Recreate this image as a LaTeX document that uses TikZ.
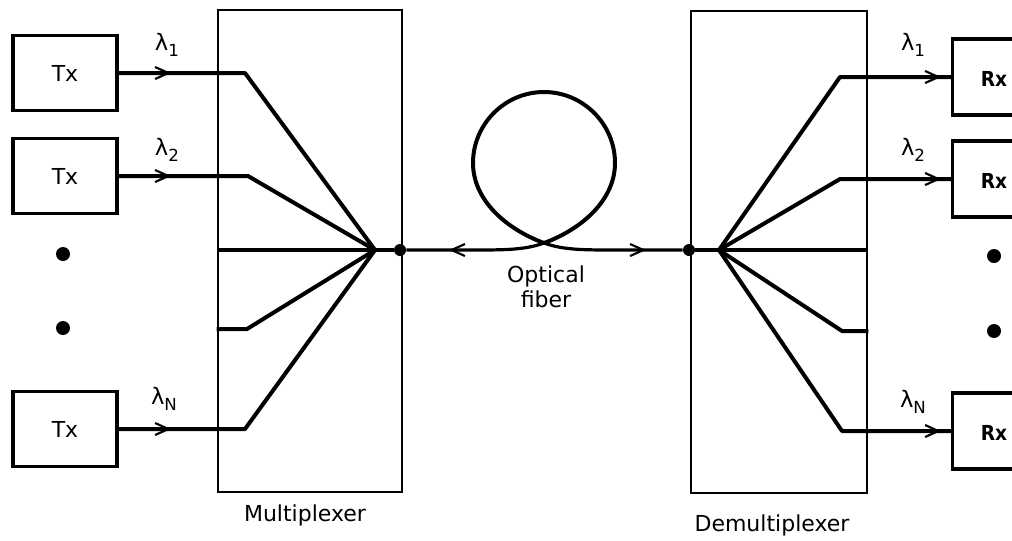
\documentclass[tikz,border=0pt]{standalone}
\usepackage{fontspec}
\setmainfont{DejaVu Sans}
\newfontfamily\rxfont{DejaVu Sans Condensed}
\usetikzlibrary{arrows.meta}
\begin{document}
\begin{tikzpicture}[x=0.75pt,y=-0.75pt,
  lbl/.style={font=\fontsize{16.5}{20}\selectfont, inner sep=0pt},
  lam/.style={font=\fontsize{17}{20}\selectfont, inner sep=0pt},
  txbox/.style={draw, line width=2.4pt, minimum width=78pt, minimum height=56pt, inner sep=0pt, font=\fontsize{16.5}{20}\selectfont},
  rxbox/.style={draw, line width=2.6pt, minimum width=80pt, minimum height=57pt, inner sep=0pt},
  rxtext/.style={font=\rxfont\bfseries\fontsize{15.5}{18}\selectfont, inner sep=0pt},
  unitbox/.style={draw, line width=2pt, inner sep=0pt},
  wire/.style={line width=3pt, line join=round},
  thinwire/.style={line width=2.4pt},
  barb/.style={-{Straight Barb[length=10pt,width=9pt,line width=1.6pt]}, line width=2.2pt},
  dotmark/.style={circle, fill, inner sep=0pt, minimum size=10.5pt},
  smalldot/.style={circle, fill, inner sep=0pt, minimum size=9pt}
]
\clip (0,0) rectangle (1012,540);
\fill[white] (0,0) rectangle (1012,540);

% transmitters
\node[txbox] (tx1) at (65,73) {Tx};
\node[txbox] (tx2) at (65,176) {Tx};
\node[txbox] (txn) at (65,429) {Tx};
\node[dotmark] (ld1) at (63,254) {};
\node[dotmark] (ld2) at (63,328) {};

% multiplexer
\node[unitbox, minimum width=138pt, minimum height=361.5pt] (mux) at (310,251) {};
\node[lbl] (muxl) at (305,515) {Multiplexer};
\coordinate (mf) at (375,250);
\node[smalldot] (mdot) at (400,250) {};

\coordinate (m1) at (245,73);
\coordinate (m2) at (248,176);
\coordinate (m3) at (mux.west |- mf);
\coordinate (m4a) at (mux.west |- 0,329);
\coordinate (m4) at (247,329);
\coordinate (mn) at (245,429);

\draw[wire] (tx1.east) -- (m1) -- (mf);
\draw[wire] (tx2.east) -- (m2) -- (mf);
\draw[wire] (m3) -- (mf);
\draw[wire] (m4a) -- (m4) -- (mf);
\draw[wire] (txn.east) -- (mn) -- (mf);
\draw[wire] (mf) -- (mdot);

\draw[barb] (150,73) -- (171,73);
\draw[barb] (150,176) -- (171,176);
\draw[barb] (150,429) -- (171,429);

\node[lam] (l1) at (167,45) {λ\raisebox{-0.45ex}{\fontsize{12.5}{14}\selectfont 1}};
\node[lam] (l2) at (167,150) {λ\raisebox{-0.45ex}{\fontsize{12.5}{14}\selectfont 2}};
\node[lam] (ln) at (164,399) {λ\raisebox{-0.45ex}{\fontsize{12.5}{14}\selectfont N}};

% optical fibre
\node[smalldot] (ddot) at (689,250) {};
\coordinate (cross) at (544,243);
\draw[thinwire] (mdot) -- (470,250) .. controls (505,250) and (525,250) .. (cross);
\draw[line width=3pt] (cross) .. controls (582,229) and (615,200) .. (615,163)
   .. controls (615,124) and (583,92) .. (544,92)
   .. controls (505,92) and (473,124) .. (473,163)
   .. controls (473,200) and (506,229) .. (cross);
\draw[thinwire] (cross) .. controls (563,250) and (583,250) .. (618,250) -- (ddot);
\draw[barb] (470,250) -- (449,250);
\draw[barb] (625,250) -- (646,250);
\node[lbl, align=center] (fib) at (546,287) {Optical\\[-1pt]fiber};

% demultiplexer
\node[unitbox, minimum width=132pt, minimum height=361.5pt] (demux) at (779,252) {};
\node[lbl] (demuxl) at (772,525) {Demultiplexer};
\coordinate (df) at (719,250);
\draw[wire] (ddot) -- (df);

\node[rxbox] (rx1) at (1006,77) {};
\node[rxbox] (rx2) at (1006,179) {};
\node[rxbox] (rxn) at (1006,431) {};
\node[rxtext] (rt1) at (994,79) {Rx};
\node[rxtext] (rt2) at (994,181) {Rx};
\node[rxtext] (rtn) at (994,433) {Rx};
\node[dotmark] (rd1) at (994,256) {};
\node[dotmark] (rd2) at (994,331) {};

\coordinate (d1) at (840,77);
\coordinate (d2) at (840,179);
\coordinate (d3) at (demux.east |- df);
\coordinate (d4) at (842,331);
\coordinate (d4a) at (demux.east |- 0,331);
\coordinate (dn) at (842,431);

\draw[wire] (df) -- (d1) -- (rx1.west);
\draw[wire] (df) -- (d2) -- (rx2.west);
\draw[wire] (df) -- (d3);
\draw[wire] (df) -- (d4) -- (d4a);
\draw[wire] (df) -- (dn) -- (rxn.west);

\draw[barb] (920,77) -- (941,77);
\draw[barb] (920,179) -- (941,179);
\draw[barb] (920,431) -- (941,431);

\node[lam] (r1) at (913,45) {λ\raisebox{-0.45ex}{\fontsize{12.5}{14}\selectfont 1}};
\node[lam] (r2) at (913,150) {λ\raisebox{-0.45ex}{\fontsize{12.5}{14}\selectfont 2}};
\node[lam] (rn) at (913,402) {λ\raisebox{-0.45ex}{\fontsize{12.5}{14}\selectfont N}};
\end{tikzpicture}
\end{document}
